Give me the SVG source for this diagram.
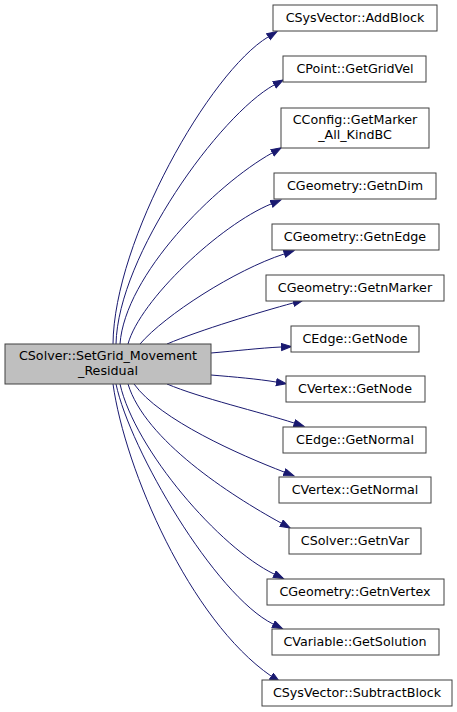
<svg xmlns="http://www.w3.org/2000/svg" width="457" height="712" viewBox="0 0 457 712">
<style>
.n rect{fill:#fff;stroke:#404040;stroke-width:1}
.main rect{fill:#bfbfbf;stroke:#404040;stroke-width:1}
text{font-family:"DejaVu Sans",sans-serif;font-size:12.7px;fill:#000;text-anchor:middle}
.e path{fill:none;stroke:#191970;stroke-width:1}
</style>
<defs>
<marker id="ah" markerUnits="userSpaceOnUse" markerWidth="12" markerHeight="9" refX="0" refY="4" orient="auto">
<path d="M0.5,0.5 L10.5,4 L0.5,7.5 z" fill="#191970" stroke="#191970" stroke-width="1"/>
</marker>
</defs>
<g id="edges" class="e">
<path marker-end="url(#ah)" d="M113,344 C114,240 210,72 268,37"/>
<path marker-end="url(#ah)" d="M116,344 C118,255 220,115 274,85"/>
<path marker-end="url(#ah)" d="M120,344 C125,275 215,185 272,153"/>
<path marker-end="url(#ah)" d="M128,344 C140,300 220,225 271,204"/>
<path marker-end="url(#ah)" d="M140,344 C165,315 235,270 284,254"/>
<path marker-end="url(#ah)" d="M167,344 C200,330 260,312 293,303"/>
<path marker-end="url(#ah)" d="M211,353 C235,351 260,348 281,347"/>
<path marker-end="url(#ah)" d="M211,375 C235,377 258,379 276,382"/>
<path marker-end="url(#ah)" d="M167,384 C200,398 260,412 294,423"/>
<path marker-end="url(#ah)" d="M134,384 C160,420 240,455 284,472"/>
<path marker-end="url(#ah)" d="M128,384 C145,440 230,495 281,523"/>
<path marker-end="url(#ah)" d="M120,384 C135,450 220,548 274,574"/>
<path marker-end="url(#ah)" d="M116,384 C130,450 215,595 273,624"/>
<path marker-end="url(#ah)" d="M113,384 C125,470 190,620 271,676"/>
</g>
<g id="main" class="main"><rect x="5" y="344" width="206" height="40"/><text x="108" y="360">CSolver::SetGrid_Movement</text><text x="108" y="375">_Residual</text></g>
<g id="n1" class="n"><rect x="273" y="5" width="164" height="26"/><text x="355" y="22">CSysVector::AddBlock</text></g>
<g id="n2" class="n"><rect x="283" y="56" width="143" height="26"/><text x="355" y="73">CPoint::GetGridVel</text></g>
<g id="n3" class="n"><rect x="281" y="108" width="148" height="40"/><text x="355" y="124">CConfig::GetMarker</text><text x="355" y="139">_All_KindBC</text></g>
<g id="n4" class="n"><rect x="274" y="173" width="162" height="26"/><text x="355" y="190">CGeometry::GetnDim</text></g>
<g id="n5" class="n"><rect x="272" y="224" width="167" height="26"/><text x="355" y="241">CGeometry::GetnEdge</text></g>
<g id="n6" class="n"><rect x="266" y="275" width="178" height="26"/><text x="355" y="292">CGeometry::GetnMarker</text></g>
<g id="n7" class="n"><rect x="291" y="326" width="128" height="26"/><text x="355" y="343">CEdge::GetNode</text></g>
<g id="n8" class="n"><rect x="286" y="376" width="139" height="26"/><text x="355" y="393">CVertex::GetNode</text></g>
<g id="n9" class="n"><rect x="283" y="427" width="143" height="26"/><text x="355" y="444">CEdge::GetNormal</text></g>
<g id="n10" class="n"><rect x="279" y="477" width="152" height="26"/><text x="355" y="494">CVertex::GetNormal</text></g>
<g id="n11" class="n"><rect x="289" y="528" width="132" height="26"/><text x="355" y="545">CSolver::GetnVar</text></g>
<g id="n12" class="n"><rect x="267" y="579" width="177" height="26"/><text x="355" y="596">CGeometry::GetnVertex</text></g>
<g id="n13" class="n"><rect x="272" y="629" width="167" height="26"/><text x="355" y="646">CVariable::GetSolution</text></g>
<g id="n14" class="n"><rect x="262" y="680" width="190" height="26"/><text x="357" y="697">CSysVector::SubtractBlock</text></g>
</svg>
